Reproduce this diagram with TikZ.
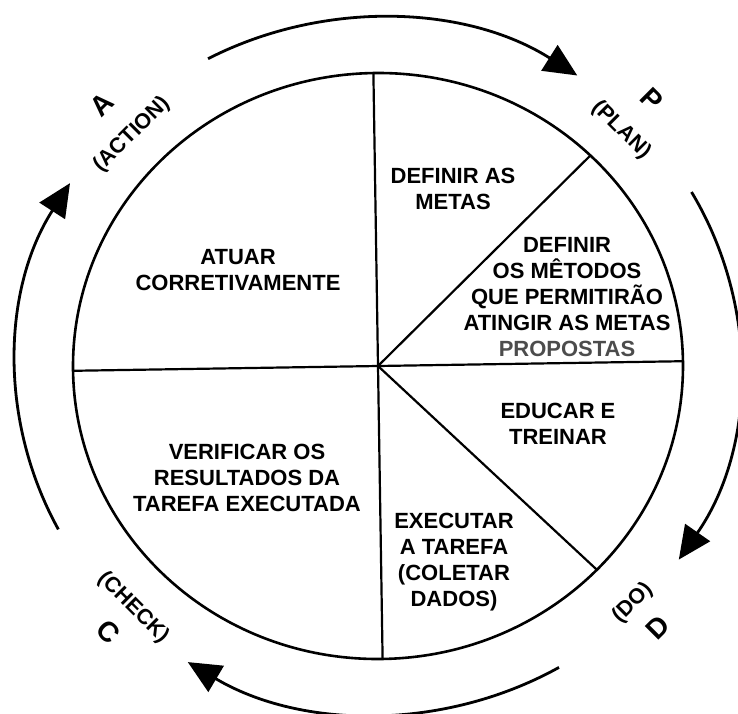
\documentclass[tikz,border=0pt]{standalone}
\usepackage{fontspec}
\setmainfont{Liberation Sans}
\usetikzlibrary{arrows.meta}
\newcommand{\bigletter}[1]{{\fontsize{28}{39}\selectfont #1}}
\tikzset{
  ring/.style={line width=2.6pt},
  spoke/.style={line width=2.2pt},
  cycle/.style={line width=2.8pt,-{Triangle[length=33pt,width=30pt]}},
  txt/.style={align=center,inner sep=0pt,font=\fontsize{22}{26}\selectfont\bfseries},
  lab/.style={align=center,inner sep=0pt,font=\fontsize{21.5}{39}\selectfont\bfseries},
}
\begin{document}
\begin{tikzpicture}[x=1pt,y=1pt]
\useasboundingbox (-378,-347) rectangle (360,366);
\coordinate (c) at (0,0);
\begin{scope}[rotate=0.9]
  \draw[ring] (c) ellipse [x radius=305, y radius=293];
  \draw[spoke] (c) -- (90:305 and 293);
  \draw[spoke] (c) -- (270:305 and 293);
  \draw[spoke] (c) -- (0:305 and 293);
  \draw[spoke] (c) -- (180:305 and 293);
  \draw[spoke] (c) -- (45:305 and 293);
  \draw[spoke] (c) -- (-45:305 and 293);
\end{scope}
% outer cycle arrows
\draw[cycle] (118:362 and 348) arc[start angle=118, end angle=56.6, x radius=362, y radius=348];
\draw[cycle] (30:362 and 348) arc[start angle=30, end angle=-33.8, x radius=362, y radius=348];
\draw[cycle] (-60:362 and 348) arc[start angle=-60, end angle=-121.7, x radius=362, y radius=348];
\draw[cycle] (208:362 and 348) arc[start angle=208, end angle=148.3, x radius=362, y radius=348];
% sector texts
\node[txt] (atuar) at (-140,96) {ATUAR\\CORRETIVAMENTE};
\node[txt] (metas) at (75,177.5) {DEFINIR AS\\METAS};
\node[txt] (metodos) at (189,68.5) {DEFINIR\\OS MÊTODOS\\QUE PERMITIRÃO\\ATINGIR AS METAS\\\textcolor{black!70}{PROPOSTAS}};
\node[txt] (educar) at (180,-58) {EDUCAR E\\TREINAR};
\node[txt] (verificar) at (-131,-112) {VERIFICAR OS\\RESULTADOS DA\\TAREFA EXECUTADA};
\node[txt] (executar) at (76,-196) {EXECUTAR\\A TAREFA\\(COLETAR\\DADOS)};
% PDCA labels
\node[lab,rotate=45] (action) at (-261,246.5) {\bigletter{A}\\(ACTION)};
\node[lab,rotate=-45] (plan) at (258.5,251) {\bigletter{P}\\(PLAN)};
\node[lab,rotate=45] (do) at (267,-249) {(DO)\\\bigletter{D}};
\node[lab,rotate=-45] (check) at (-257,-253.5) {(CHECK)\\\bigletter{C}};
\end{tikzpicture}
\end{document}
